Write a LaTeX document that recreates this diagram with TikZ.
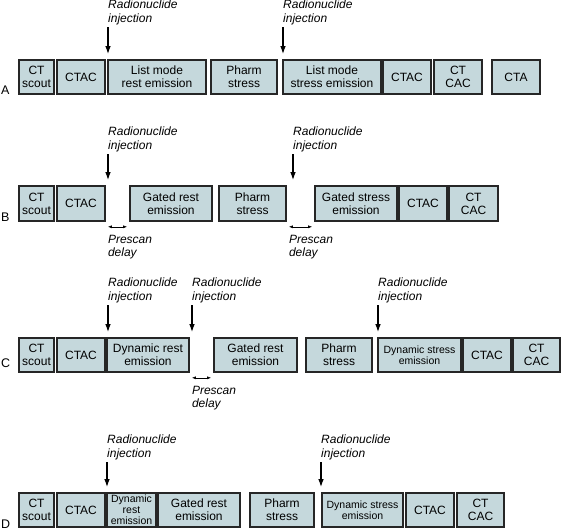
\documentclass[tikz,border=0pt]{standalone}
\usepackage{fontspec}
\setmainfont{Liberation Sans}
\usepackage{tikz}
\usetikzlibrary{arrows.meta}
\definecolor{boxfill}{RGB}{197,216,220}
\tikzset{box/.style={draw=black!85, line width=1.6pt, fill=boxfill, align=center,
   inner sep=1pt, minimum height=34pt, font=\fontsize{12}{13}\selectfont},
 sbox/.style={box, font=\fontsize{10.5}{11}\selectfont},
 note/.style={inner sep=0pt, align=left, anchor=south west,
   font=\itshape\fontsize{12}{13.5}\selectfont},
 rowlbl/.style={inner sep=0pt, anchor=base west, font=\fontsize{12.5}{14}\selectfont},
 inj/.style={line width=1.3pt, -{Latex[length=8pt,width=5.5pt]}, shorten <=2pt, shorten >=5pt},
 delay/.style={line width=0.6pt, {Latex[length=4pt,width=3pt]}-{Latex[length=4pt,width=3pt]},
   shorten <=2pt, shorten >=2pt},
 }

\begin{document}
\begin{tikzpicture}[x=1pt, y=-1pt]
        \useasboundingbox (0,0) rectangle (562,531);
        \node[rowlbl] (rA) at (1,94) {A};
        \node[box, minimum width=35pt] (A1) at (36.5,77) {CT\\scout};
        \node[box, minimum width=48pt] (A2) at (81,77) {CTAC};
        \node[box, minimum width=98pt] (A3) at (157,77) {List mode\\rest emission};
        \node[box, minimum width=66pt] (A4) at (244,77) {Pharm\\stress};
        \node[box, minimum width=98pt] (A5) at (332,77) {List mode\\stress emission};
        \node[box, minimum width=48pt] (A6) at (407,77) {CTAC};
        \node[box, minimum width=48pt] (A7) at (458,77) {CT\\CAC};
        \node[box, minimum width=48pt] (A8) at (516,77) {CTA};

        \node[rowlbl] (rB) at (1,221) {B};
        \node[box, minimum width=35pt, minimum height=35pt] (B1) at (36.5,203.5) {CT\\scout};
        \node[box, minimum width=48pt, minimum height=35pt] (B2) at (81,203.5) {CTAC};
        \node[box, minimum width=82pt, minimum height=35pt] (B3) at (171,203.5) {Gated rest\\emission};
        \node[box, minimum width=67pt, minimum height=35pt] (B4) at (252.5,203.5) {Pharm\\stress};
        \node[box, minimum width=82pt, minimum height=35pt] (B5) at (356,203.5) {Gated stress\\emission};
        \node[box, minimum width=48pt, minimum height=35pt] (B6) at (423,203.5) {CTAC};
        \node[box, minimum width=49pt, minimum height=35pt] (B7) at (473.5,203.5) {CT\\CAC};

        \node[rowlbl] (rC) at (1,367) {C};
        \node[box, minimum width=35pt] (C1) at (36.5,355) {CT\\scout};
        \node[box, minimum width=48pt] (C2) at (81,355) {CTAC};
        \node[box, minimum width=82pt] (C3) at (148,355) {Dynamic rest\\emission};
        \node[box, minimum width=83pt] (C4) at (255.5,355) {Gated rest\\emission};
        \node[box, minimum width=66pt] (C5) at (339,355) {Pharm\\stress};
        \node[sbox, minimum width=83pt] (C6) at (419.5,355) {Dynamic stress\\emission};
        \node[box, minimum width=48pt] (C7) at (487,355) {CTAC};
        \node[box, minimum width=47pt] (C8) at (536.5,355) {CT\\CAC};

        \node[rowlbl] (rD) at (1,528) {D};
        \node[box, minimum width=35pt] (D1) at (36.5,510) {CT\\scout};
        \node[box, minimum width=48pt] (D2) at (81,510) {CTAC};
        \node[sbox, minimum width=49pt] (D3) at (131.5,510) {Dynamic\\rest\\emission};
        \node[box, minimum width=82pt] (D4) at (199,510) {Gated rest\\emission};
        \node[box, minimum width=64pt] (D5) at (282,510) {Pharm\\stress};
        \node[sbox, minimum width=81pt] (D6) at (362.5,510) {Dynamic stress\\emission};
        \node[box, minimum width=48pt] (D7) at (430,510) {CTAC};
        \node[box, minimum width=47pt] (D8) at (480.5,510) {CT\\CAC};

        \foreach \n/\x/\y/\b in {lA1/108/25/A3, lA2/283/25/A5, lB1/108/152/B2, lB2/293/152/B5,
                lC1/108/303/C3, lC2/192/303/C3, lC3/378/303/C6, lD1/107/460/D3, lD2/321/460/D6} {
            \node[note] (\n) at (\x,\y) {Radionuclide\\injection};
            \draw[inj] (\n.south west) -- (\n.south west |- \b.north);
        }
        \foreach \a/\b/\n in {B2/B3/dB1, B4/B5/dB2, C3/C4/dC1} {
            \draw[delay] ([yshift=-5pt]\a.south east) -- ([yshift=-5pt]\b.south west);
            \node[note, anchor=north west] (\n) at ([xshift=2pt, yshift=-13pt]\a.south east) {Prescan\\delay};
        }
    \end{tikzpicture}
\end{document}
